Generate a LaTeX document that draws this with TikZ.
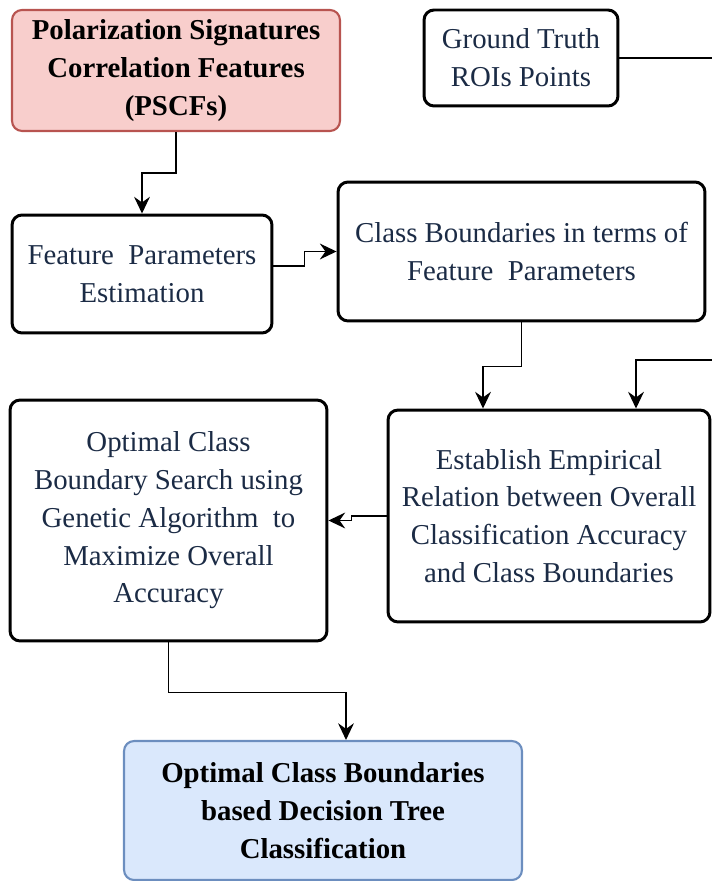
\documentclass[tikz,border=0pt]{standalone}
\usepackage{fontspec}
\setmainfont{Liberation Serif}
\usetikzlibrary{arrows.meta,calc}
\definecolor{txtnavy}{HTML}{1B2B45}
\definecolor{redfill}{HTML}{F8CECC}
\definecolor{redline}{HTML}{B85450}
\definecolor{bluefill}{HTML}{DAE8FC}
\definecolor{blueline}{HTML}{6C8EBF}
\begin{document}
\begin{tikzpicture}[x=0.02cm,y=-0.02cm,
    box/.style={draw,rounded corners=0.2cm,line width=1.7pt,align=center,
      text=txtnavy,inner sep=0pt,font=\fontsize{16.4}{21.5}\selectfont},
    keybox/.style={box,line width=1.2pt,text=black,
      font=\fontsize{16.4}{21.5}\selectfont\bfseries},
    link/.style={line width=0.85pt,-{Stealth[length=9.5pt,width=9pt,inset=3.2pt]}}]
  \useasboundingbox (0,0) rectangle (712,881);
  \clip (0,0) rectangle (712,881);
  \node[keybox,fill=redfill,draw=redline,minimum width=6.56cm,minimum height=2.42cm]
    (pscf) at (176,70.5) {Polarization Signatures\\Correlation Features\\(PSCFs)};
  \node[box,minimum width=3.88cm,minimum height=1.92cm]
    (gt) at (521,58) {Ground Truth\\ROIs Points};
  \node[box,minimum width=5.2cm,minimum height=2.36cm]
    (fpe) at (142,274) {Feature~~Parameters\\Estimation};
  \node[box,minimum width=7.34cm,minimum height=2.78cm]
    (cbf) at (521.5,251.5) {Class Boundaries in terms of\\Feature~~Parameters};
  \node[box,minimum width=6.34cm,minimum height=4.82cm]
    (ocbs) at (168.5,520.5) {Optimal Class\\Boundary Search using\\Genetic Algorithm~~to\\Maximize Overall\\Accuracy};
  \node[box,minimum width=6.44cm,minimum height=4.24cm]
    (emp) at (549,516) {Establish Empirical\\Relation between Overall\\Classification Accuracy\\and Class Boundaries};
  \node[keybox,fill=bluefill,draw=blueline,minimum width=7.96cm,minimum height=2.78cm]
    (dt) at (323,810.5) {Optimal Class Boundaries\\based Decision Tree\\Classification};
  \draw[link] (pscf.south) -- ++(0,41) -| (fpe.north);
  \draw[link] ($(fpe.east)+(0,-8)$) -- ++(31,0) |- (cbf.west);
  \draw[link] (cbf.south) -- ++(0,44) -| ($(emp.north)+(-66,0)$);
  \draw[link] (gt.east) -- ++(122,0) -- ++(0,302) -| ($(emp.north)+(87,0)$);
  \draw[link] (emp.west) -- ++(-35,0) |- (ocbs.east);
  \draw[link] (ocbs.south) -- ++(0,50) -| ($(dt.north)+(23,0)$);
\end{tikzpicture}
\end{document}
